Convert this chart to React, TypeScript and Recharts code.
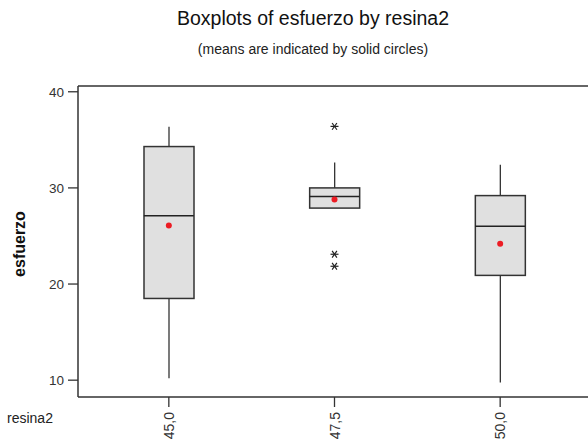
import React from 'react';
import { ComposedChart, Bar, Scatter, XAxis, YAxis } from 'recharts';

// boxplot summaries
const categories = ['45,0', '47,5', '50,0'];
const whiskerLow = [10.2, 27.9, 9.75];
const q1 = [18.5, 27.9, 20.9];
const median = [27.1, 29.1, 26.0];
const q3 = [34.3, 30.0, 29.2];
const whiskerHigh = [36.35, 32.65, 32.4];
const means = [26.1, 28.8, 24.2];
const outliers: number[][] = [[], [36.4, 23.1, 21.85], []];
const yTicks = [10, 20, 30, 40];

const data = categories.map((cat, i) => ({
  cat,
  whisker: [whiskerLow[i], whiskerHigh[i]],
  box: [q1[i], q3[i]],
  median: median[i],
  mean: means[i],
  o1: outliers[i][0] ?? null,
  o2: outliers[i][1] ?? null,
  o3: outliers[i][2] ?? null,
}));

const FONT = '"Liberation Sans", Arial, sans-serif';
const AXIS = '#333';
const BOX_W = 50;
const X_PAD = { left: 8, right: 97 };

const WhiskerShape = (props: any) => {
  const { x, y, width, height } = props;
  const cx = x + width / 2;
  return <line x1={cx} x2={cx} y1={y} y2={y + height} stroke="#333" strokeWidth={1.3} />;
};

const BoxShape = (props: any) => {
  const { x, y, width, height } = props;
  return <rect x={x} y={y} width={width} height={height} fill="#e0e0e0" stroke="#333" strokeWidth={1.5} />;
};

const MedianShape = (props: any) => {
  const { cx, cy } = props;
  return <line x1={cx - BOX_W / 2} x2={cx + BOX_W / 2} y1={cy} y2={cy} stroke="#222" strokeWidth={1.5} />;
};

const MeanShape = (props: any) => <circle cx={props.cx} cy={props.cy} r={3} fill="#ec1c24" />;

const makeStar = (key: string) => (props: any) => {
  const { cx, cy, payload } = props;
  if (payload == null || payload[key] == null) return <g />;
  const r = 4;
  const dx = r * 0.6;
  const dy = r * 0.85;
  return (
    <g stroke="#222" strokeWidth={1.2}>
      <line x1={cx - r} x2={cx + r} y1={cy} y2={cy} />
      <line x1={cx - dx} x2={cx + dx} y1={cy - dy} y2={cy + dy} />
      <line x1={cx - dx} x2={cx + dx} y1={cy + dy} y2={cy - dy} />
    </g>
  );
};

const XTick = (props: any) => {
  const { x, y, payload } = props;
  return (
    <text
      transform={`translate(${x + 5},${y + 3}) rotate(-90)`}
      textAnchor="end"
      fontSize={14}
      fill="#333"
      fontFamily={FONT}
    >
      {payload.value}
    </text>
  );
};

export default function App() {
  return (
    <div
      style={{
        position: 'absolute',
        left: 0,
        top: 0,
        width: 588,
        height: 444,
        overflow: 'hidden',
        background: '#fff',
        fontFamily: FONT,
      }}
    >
      <div style={{ position: 'absolute', left: 0, width: 626, top: 8, textAlign: 'center', fontSize: 19.5, lineHeight: '20px', color: '#111' }}>
        Boxplots of esfuerzo by resina2
      </div>
      <div style={{ position: 'absolute', left: 0, width: 626, top: 42, textAlign: 'center', fontSize: 14, lineHeight: '14px', color: '#222' }}>
        (means are indicated by solid circles)
      </div>
      <div
        style={{
          position: 'absolute',
          left: 19.5,
          top: 244,
          transform: 'translate(-50%, -50%) rotate(-90deg)',
          fontSize: 16,
          fontWeight: 'bold',
          color: '#111',
          whiteSpace: 'nowrap',
        }}
      >
        esfuerzo
      </div>
      <div style={{ position: 'absolute', left: 7, top: 411, fontSize: 14, lineHeight: '14px', color: '#222' }}>resina2</div>

      <ComposedChart
        width={700}
        height={444}
        data={data}
        margin={{ top: 80, right: 20, bottom: 0, left: 0 }}
        style={{ position: 'absolute', left: 0, top: 0 }}
      >
        <XAxis
          dataKey="cat"
          type="category"
          padding={X_PAD}
          height={47}
          tickSize={10}
          tickMargin={2}
          tickLine={{ stroke: AXIS, strokeWidth: 1.3 }}
          axisLine={{ stroke: AXIS, strokeWidth: 1.5 }}
          tick={<XTick />}
          interval={0}
        />
        <XAxis
          xAxisId="top"
          dataKey="cat"
          type="category"
          orientation="top"
          padding={X_PAD}
          height={6}
          tick={false}
          tickLine={false}
          axisLine={{ stroke: AXIS, strokeWidth: 1.5 }}
        />
        <YAxis
          type="number"
          domain={[8.25, 40.6]}
          ticks={yTicks}
          allowDataOverflow
          width={78}
          tickSize={10}
          tickMargin={4}
          tickLine={{ stroke: AXIS, strokeWidth: 1.3 }}
          axisLine={{ stroke: AXIS, strokeWidth: 1.5 }}
          tick={{ fontSize: 13.5, fill: '#333', fontFamily: FONT }}
        />
        <Bar xAxisId="top" dataKey="whisker" barSize={BOX_W} shape={<WhiskerShape />} isAnimationActive={false} />
        <Bar dataKey="box" barSize={BOX_W} shape={<BoxShape />} isAnimationActive={false} />
        <Scatter dataKey="median" shape={<MedianShape />} isAnimationActive={false} />
        <Scatter dataKey="mean" shape={<MeanShape />} isAnimationActive={false} />
        <Scatter dataKey="o1" shape={makeStar('o1')} isAnimationActive={false} />
        <Scatter dataKey="o2" shape={makeStar('o2')} isAnimationActive={false} />
        <Scatter dataKey="o3" shape={makeStar('o3')} isAnimationActive={false} />
      </ComposedChart>
    </div>
  );
}
